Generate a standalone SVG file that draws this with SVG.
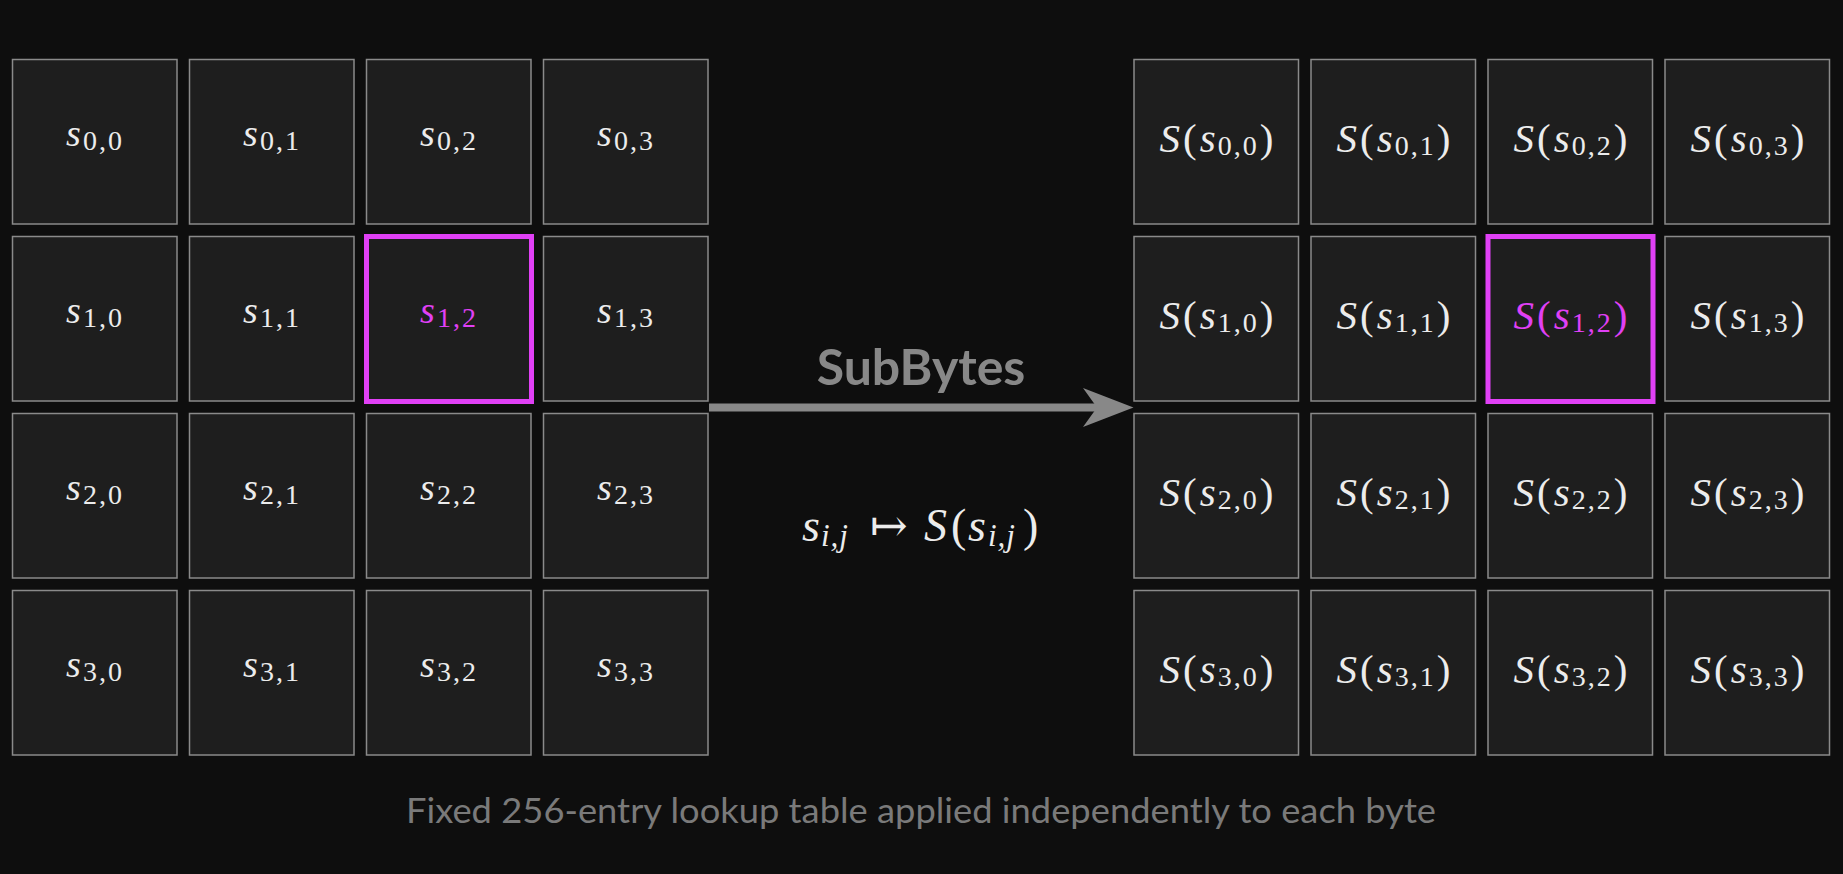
<svg xmlns="http://www.w3.org/2000/svg" width="1843" height="874" viewBox="0 0 1843 874">
<style>
.cell{fill:#1e1e1e;stroke:#8a8a8a;stroke-width:1.5}
.hl{fill:none;stroke:#e040f5;stroke-width:5}
.m{font-family:"Liberation Serif","DejaVu Serif",serif;fill:#ececec;text-anchor:middle}
.l{font-size:38px}
.r{font-size:41px}
.it{font-style:italic}
.sl{font-size:28px;letter-spacing:2px}
.sr{font-size:28px;letter-spacing:2px}
.pink{fill:#e040f5}
.title{font-family:Lato,"Liberation Sans",sans-serif;font-weight:bold;font-size:50px;fill:#888888;text-anchor:middle}
.cap{font-family:Lato,"Liberation Sans",sans-serif;font-size:35px;fill:#7a7a7a;text-anchor:middle}
</style>
<rect width="1843" height="874" fill="#0e0e0e"/>
<g id="left-grid">
<g id="s00"><rect class="cell" x="12.5" y="59.5" width="164.5" height="164.5"/><text class="m l" x="95" y="145.5"><tspan class="it">s</tspan><tspan class="sl" dx="2" dy="4">0,0</tspan></text></g>
<g id="s01"><rect class="cell" x="189.5" y="59.5" width="164.5" height="164.5"/><text class="m l" x="272" y="145.5"><tspan class="it">s</tspan><tspan class="sl" dx="2" dy="4">0,1</tspan></text></g>
<g id="s02"><rect class="cell" x="366.5" y="59.5" width="164.5" height="164.5"/><text class="m l" x="449" y="145.5"><tspan class="it">s</tspan><tspan class="sl" dx="2" dy="4">0,2</tspan></text></g>
<g id="s03"><rect class="cell" x="543.5" y="59.5" width="164.5" height="164.5"/><text class="m l" x="626" y="145.5"><tspan class="it">s</tspan><tspan class="sl" dx="2" dy="4">0,3</tspan></text></g>
<g id="s10"><rect class="cell" x="12.5" y="236.5" width="164.5" height="164.5"/><text class="m l" x="95" y="322.5"><tspan class="it">s</tspan><tspan class="sl" dx="2" dy="4">1,0</tspan></text></g>
<g id="s11"><rect class="cell" x="189.5" y="236.5" width="164.5" height="164.5"/><text class="m l" x="272" y="322.5"><tspan class="it">s</tspan><tspan class="sl" dx="2" dy="4">1,1</tspan></text></g>
<g id="s12"><rect class="cell" x="366.5" y="236.5" width="164.5" height="164.5"/><rect class="hl" x="366.5" y="236.5" width="165" height="165"/><text class="m l pink" x="449" y="322.5"><tspan class="it">s</tspan><tspan class="sl" dx="2" dy="4">1,2</tspan></text></g>
<g id="s13"><rect class="cell" x="543.5" y="236.5" width="164.5" height="164.5"/><text class="m l" x="626" y="322.5"><tspan class="it">s</tspan><tspan class="sl" dx="2" dy="4">1,3</tspan></text></g>
<g id="s20"><rect class="cell" x="12.5" y="413.5" width="164.5" height="164.5"/><text class="m l" x="95" y="499.5"><tspan class="it">s</tspan><tspan class="sl" dx="2" dy="4">2,0</tspan></text></g>
<g id="s21"><rect class="cell" x="189.5" y="413.5" width="164.5" height="164.5"/><text class="m l" x="272" y="499.5"><tspan class="it">s</tspan><tspan class="sl" dx="2" dy="4">2,1</tspan></text></g>
<g id="s22"><rect class="cell" x="366.5" y="413.5" width="164.5" height="164.5"/><text class="m l" x="449" y="499.5"><tspan class="it">s</tspan><tspan class="sl" dx="2" dy="4">2,2</tspan></text></g>
<g id="s23"><rect class="cell" x="543.5" y="413.5" width="164.5" height="164.5"/><text class="m l" x="626" y="499.5"><tspan class="it">s</tspan><tspan class="sl" dx="2" dy="4">2,3</tspan></text></g>
<g id="s30"><rect class="cell" x="12.5" y="590.5" width="164.5" height="164.5"/><text class="m l" x="95" y="676.5"><tspan class="it">s</tspan><tspan class="sl" dx="2" dy="4">3,0</tspan></text></g>
<g id="s31"><rect class="cell" x="189.5" y="590.5" width="164.5" height="164.5"/><text class="m l" x="272" y="676.5"><tspan class="it">s</tspan><tspan class="sl" dx="2" dy="4">3,1</tspan></text></g>
<g id="s32"><rect class="cell" x="366.5" y="590.5" width="164.5" height="164.5"/><text class="m l" x="449" y="676.5"><tspan class="it">s</tspan><tspan class="sl" dx="2" dy="4">3,2</tspan></text></g>
<g id="s33"><rect class="cell" x="543.5" y="590.5" width="164.5" height="164.5"/><text class="m l" x="626" y="676.5"><tspan class="it">s</tspan><tspan class="sl" dx="2" dy="4">3,3</tspan></text></g>
</g>
<g id="right-grid">
<g id="S00"><rect class="cell" x="1134" y="59.5" width="164.5" height="164.5"/><text class="m r" x="1216.5" y="152"><tspan class="it">S</tspan><tspan dx="3">(</tspan><tspan class="it" dx="3">s</tspan><tspan class="sr" dx="2" dy="3">0,0</tspan><tspan dx="1" dy="-3">)</tspan></text></g>
<g id="S01"><rect class="cell" x="1311" y="59.5" width="164.5" height="164.5"/><text class="m r" x="1393.5" y="152"><tspan class="it">S</tspan><tspan dx="3">(</tspan><tspan class="it" dx="3">s</tspan><tspan class="sr" dx="2" dy="3">0,1</tspan><tspan dx="1" dy="-3">)</tspan></text></g>
<g id="S02"><rect class="cell" x="1488" y="59.5" width="164.5" height="164.5"/><text class="m r" x="1570.5" y="152"><tspan class="it">S</tspan><tspan dx="3">(</tspan><tspan class="it" dx="3">s</tspan><tspan class="sr" dx="2" dy="3">0,2</tspan><tspan dx="1" dy="-3">)</tspan></text></g>
<g id="S03"><rect class="cell" x="1665" y="59.5" width="164.5" height="164.5"/><text class="m r" x="1747.5" y="152"><tspan class="it">S</tspan><tspan dx="3">(</tspan><tspan class="it" dx="3">s</tspan><tspan class="sr" dx="2" dy="3">0,3</tspan><tspan dx="1" dy="-3">)</tspan></text></g>
<g id="S10"><rect class="cell" x="1134" y="236.5" width="164.5" height="164.5"/><text class="m r" x="1216.5" y="329"><tspan class="it">S</tspan><tspan dx="3">(</tspan><tspan class="it" dx="3">s</tspan><tspan class="sr" dx="2" dy="3">1,0</tspan><tspan dx="1" dy="-3">)</tspan></text></g>
<g id="S11"><rect class="cell" x="1311" y="236.5" width="164.5" height="164.5"/><text class="m r" x="1393.5" y="329"><tspan class="it">S</tspan><tspan dx="3">(</tspan><tspan class="it" dx="3">s</tspan><tspan class="sr" dx="2" dy="3">1,1</tspan><tspan dx="1" dy="-3">)</tspan></text></g>
<g id="S12"><rect class="cell" x="1488" y="236.5" width="164.5" height="164.5"/><rect class="hl" x="1488" y="236.5" width="165" height="165"/><text class="m r pink" x="1570.5" y="329"><tspan class="it">S</tspan><tspan dx="3">(</tspan><tspan class="it" dx="3">s</tspan><tspan class="sr" dx="2" dy="3">1,2</tspan><tspan dx="1" dy="-3">)</tspan></text></g>
<g id="S13"><rect class="cell" x="1665" y="236.5" width="164.5" height="164.5"/><text class="m r" x="1747.5" y="329"><tspan class="it">S</tspan><tspan dx="3">(</tspan><tspan class="it" dx="3">s</tspan><tspan class="sr" dx="2" dy="3">1,3</tspan><tspan dx="1" dy="-3">)</tspan></text></g>
<g id="S20"><rect class="cell" x="1134" y="413.5" width="164.5" height="164.5"/><text class="m r" x="1216.5" y="506"><tspan class="it">S</tspan><tspan dx="3">(</tspan><tspan class="it" dx="3">s</tspan><tspan class="sr" dx="2" dy="3">2,0</tspan><tspan dx="1" dy="-3">)</tspan></text></g>
<g id="S21"><rect class="cell" x="1311" y="413.5" width="164.5" height="164.5"/><text class="m r" x="1393.5" y="506"><tspan class="it">S</tspan><tspan dx="3">(</tspan><tspan class="it" dx="3">s</tspan><tspan class="sr" dx="2" dy="3">2,1</tspan><tspan dx="1" dy="-3">)</tspan></text></g>
<g id="S22"><rect class="cell" x="1488" y="413.5" width="164.5" height="164.5"/><text class="m r" x="1570.5" y="506"><tspan class="it">S</tspan><tspan dx="3">(</tspan><tspan class="it" dx="3">s</tspan><tspan class="sr" dx="2" dy="3">2,2</tspan><tspan dx="1" dy="-3">)</tspan></text></g>
<g id="S23"><rect class="cell" x="1665" y="413.5" width="164.5" height="164.5"/><text class="m r" x="1747.5" y="506"><tspan class="it">S</tspan><tspan dx="3">(</tspan><tspan class="it" dx="3">s</tspan><tspan class="sr" dx="2" dy="3">2,3</tspan><tspan dx="1" dy="-3">)</tspan></text></g>
<g id="S30"><rect class="cell" x="1134" y="590.5" width="164.5" height="164.5"/><text class="m r" x="1216.5" y="683"><tspan class="it">S</tspan><tspan dx="3">(</tspan><tspan class="it" dx="3">s</tspan><tspan class="sr" dx="2" dy="3">3,0</tspan><tspan dx="1" dy="-3">)</tspan></text></g>
<g id="S31"><rect class="cell" x="1311" y="590.5" width="164.5" height="164.5"/><text class="m r" x="1393.5" y="683"><tspan class="it">S</tspan><tspan dx="3">(</tspan><tspan class="it" dx="3">s</tspan><tspan class="sr" dx="2" dy="3">3,1</tspan><tspan dx="1" dy="-3">)</tspan></text></g>
<g id="S32"><rect class="cell" x="1488" y="590.5" width="164.5" height="164.5"/><text class="m r" x="1570.5" y="683"><tspan class="it">S</tspan><tspan dx="3">(</tspan><tspan class="it" dx="3">s</tspan><tspan class="sr" dx="2" dy="3">3,2</tspan><tspan dx="1" dy="-3">)</tspan></text></g>
<g id="S33"><rect class="cell" x="1665" y="590.5" width="164.5" height="164.5"/><text class="m r" x="1747.5" y="683"><tspan class="it">S</tspan><tspan dx="3">(</tspan><tspan class="it" dx="3">s</tspan><tspan class="sr" dx="2" dy="3">3,3</tspan><tspan dx="1" dy="-3">)</tspan></text></g>
</g>
<g id="connectors">
<line x1="709" y1="407.5" x2="1100" y2="407.5" stroke="#888888" stroke-width="8"/>
<polygon points="1133.5,407.5 1083,388 1097,407.5 1083,427" fill="#888888"/>
</g>
<text class="title" x="921" y="385">SubBytes</text>
<text font-family="'Liberation Serif','DejaVu Serif',serif" font-size="46" fill="#ececec" y="541"><tspan class="it" x="802">s</tspan><tspan class="it" x="821" dy="5" font-size="31" letter-spacing="1">i,j</tspan><tspan x="870" dy="-5" font-family="'DejaVu Serif',serif" font-size="45">↦</tspan><tspan class="it" x="924">S</tspan><tspan x="951">(</tspan><tspan class="it" x="968">s</tspan><tspan class="it" x="988" dy="5" font-size="31" letter-spacing="1">i,j</tspan><tspan x="1023" dy="-5">)</tspan></text>
<text class="cap" x="921" y="823" textLength="1030" lengthAdjust="spacingAndGlyphs">Fixed 256-entry lookup table applied independently to each byte</text>
</svg>
